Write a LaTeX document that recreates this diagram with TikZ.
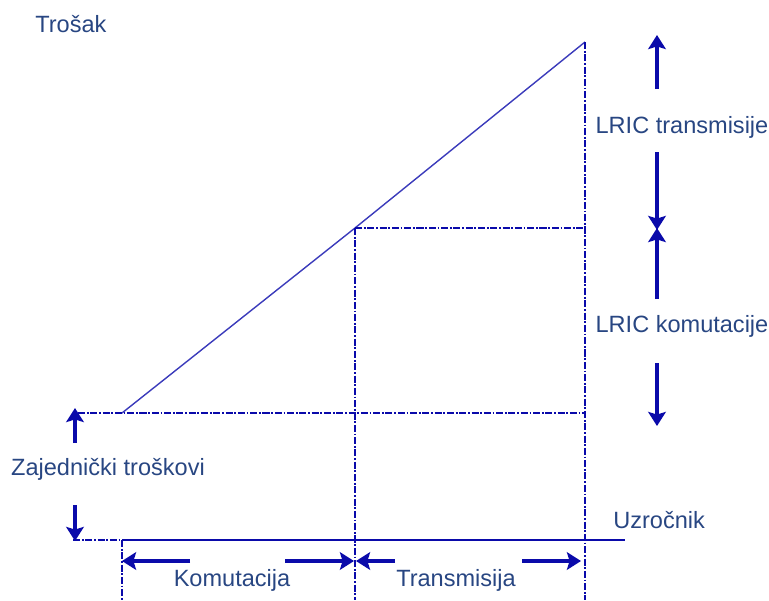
\documentclass[tikz,border=0pt]{standalone}
\usepackage{fontspec}
\setmainfont{Liberation Sans}
\usetikzlibrary{arrows.meta}
\definecolor{lineblue}{RGB}{10,10,170}
\definecolor{textblue}{RGB}{40,70,130}
\tikzset{
  lbl/.style={text=textblue, font=\fontsize{13.4}{15}\selectfont, inner sep=0pt},
  guide/.style={lineblue, line width=1.2pt, dash pattern=on 4pt off 1pt on 1pt off 1pt},
  bigarrow/.style={lineblue, line width=2.4pt, -{Stealth[length=8pt,width=10pt,inset=1.5pt]}}
}
\begin{document}
\begin{tikzpicture}[x=0.02cm,y=-0.02cm]
            \useasboundingbox (0,0) rectangle (769,600);

            % points of the cost line
            \coordinate (O) at (122,540);
            \coordinate (P) at (122,413);
            \coordinate (Q) at (355,228);
            \coordinate (R) at (585,42);

            \coordinate (L) at (73,540);
            \coordinate (Lp) at (78,413);
            \coordinate (Qr) at (585,228);
            \coordinate (Pr) at (585,413);
            \coordinate (E) at (625,540);
            \coordinate (Ob) at (122,600);
            \coordinate (Qb) at (355,600);
            \coordinate (Rb) at (585,600);

            \node [lbl, anchor=west] (trosak) at (35,24) {Trošak};
            \node [lbl, anchor=west] (uzrocnik) at (613,520) {Uzročnik};
            \node [lbl] (zajednicki) at (108,469) {Zajednički troškovi};
            \node [lbl] (komutacija) at (232,580) {Komutacija};
            \node [lbl] (transmisija) at (456,580) {Transmisija};
            \node [lbl] (lrict) at (682,127) {LRIC transmisije};
            \node [lbl] (lrick) at (682,326) {LRIC komutacije};

            % axis and cost line
            \draw [lineblue, line width=1.2pt] (O) -- (E);
            \draw [lineblue!80, line width=0.8pt] (P) -- (Q) -- (R);

            % guides
            \draw [guide] (L) -- (O);
            \draw [guide] (Lp) -- (Pr);
            \draw [guide] (Q) -- (Qr);
            \draw [guide] (O) -- (Ob);
            \draw [guide] (Q) -- (Qb);
            \draw [guide] (R) -- (Rb);

            % arrows
            \coordinate (z1) at (75,443); \coordinate (z2) at (75,408);
            \coordinate (z3) at (75,505); \coordinate (z4) at (75,541);
            \draw [bigarrow] (z1) -- (z2);
            \draw [bigarrow] (z3) -- (z4);

            \coordinate (k1) at (190,561); \coordinate (k2) at (122,561);
            \coordinate (k3) at (285,561); \coordinate (k4) at (354,561);
            \coordinate (t1) at (395,561); \coordinate (t2) at (356,561);
            \coordinate (t3) at (522,561); \coordinate (t4) at (581,561);
            \draw [bigarrow] (k1) -- (k2); \draw [bigarrow] (k3) -- (k4);
            \draw [bigarrow] (t1) -- (t2); \draw [bigarrow] (t3) -- (t4);

            \coordinate (a1) at (657,89); \coordinate (a2) at (657,35);
            \coordinate (a3) at (657,152); \coordinate (a4) at (657,230);
            \coordinate (b1) at (657,299); \coordinate (b2) at (657,228);
            \coordinate (b3) at (657,363); \coordinate (b4) at (657,426);
            \draw [bigarrow] (a1) -- (a2); \draw [bigarrow] (a3) -- (a4);
            \draw [bigarrow] (b1) -- (b2); \draw [bigarrow] (b3) -- (b4);
        \end{tikzpicture}
\end{document}
